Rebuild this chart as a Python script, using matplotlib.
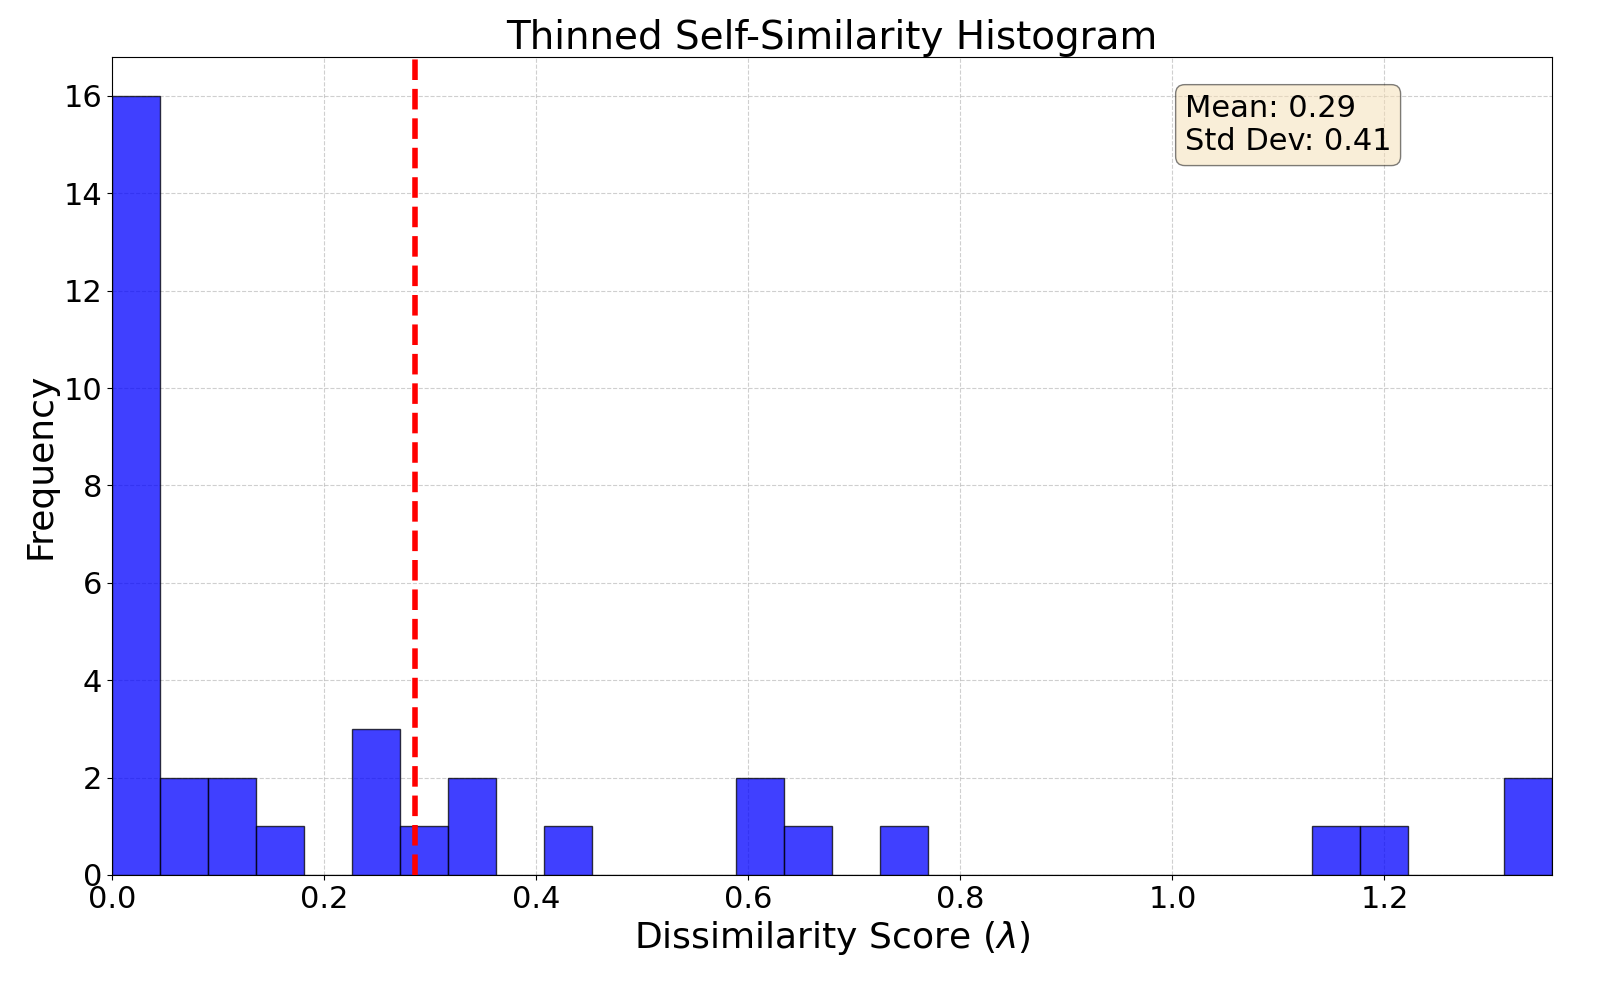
import numpy as np
import matplotlib
matplotlib.use("Agg")
import matplotlib.pyplot as plt

x_max = 1.358
n_bins = 30
counts = [16, 2, 2, 1, 0, 3, 1, 2, 0, 1, 0, 0, 0, 2, 1, 0, 1, 0, 0, 0,
          0, 0, 0, 0, 0, 1, 1, 0, 0, 2]
mean_val = 0.2854
mean_label = "0.29"
std_label = "0.41"

edges = np.linspace(0, x_max, n_bins + 1)

fig, ax = plt.subplots(figsize=(16, 10), dpi=100)
ax.hist(edges[:-1], bins=edges, weights=counts, color="blue", alpha=0.75,
        edgecolor="black", zorder=2)
ax.axvline(mean_val, color="red", linestyle="--", linewidth=4, zorder=3)
ax.set_xlim(0, x_max)
ax.set_ylim(0, 16.8)
ax.grid(True, linestyle="--", alpha=0.6, zorder=0)
ax.set_axisbelow(True)
ax.set_title("Thinned Self-Similarity Histogram", fontsize=28)
ax.set_xlabel(r"Dissimilarity Score ($\lambda$)", fontsize=26)
ax.set_ylabel("Frequency", fontsize=26)
ax.tick_params(labelsize=22)
ax.text(0.745, 0.955, f"Mean: {mean_label}\nStd Dev: {std_label}",
        transform=ax.transAxes, fontsize=22, va="top",
        bbox=dict(boxstyle="round", facecolor="wheat", alpha=0.5))
fig.subplots_adjust(left=0.07, right=0.97, top=0.943, bottom=0.125)
fig.savefig("out.png")
